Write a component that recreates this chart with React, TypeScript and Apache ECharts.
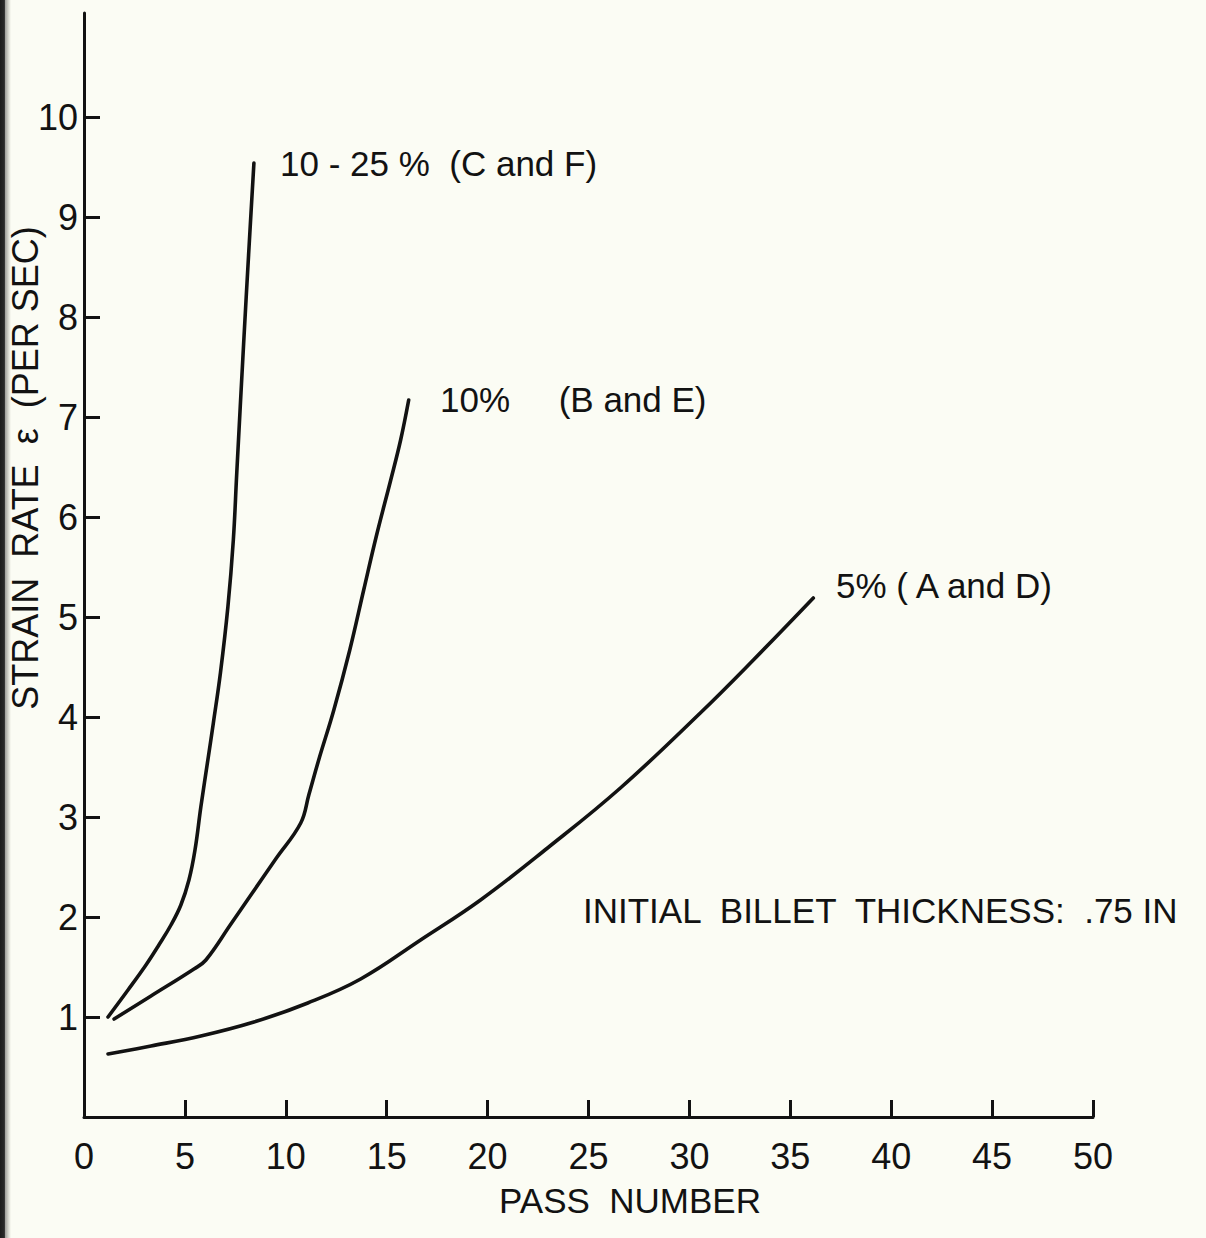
import React, { useEffect, useRef } from "react";
import * as echarts from "echarts";

// ---- data ----
const xLabelValues = [0, 5, 10, 15, 20, 25, 30, 35, 40, 45, 50];
const xTickValues = [5, 10, 15, 20, 25, 30, 35, 40, 45, 50];
const yTickValues = [1, 2, 3, 4, 5, 6, 7, 8, 9, 10];

// 10-25 % (C and F)
const seriesCF: number[][] = [
  [1.19, 1.0], [2.18, 1.27], [3.07, 1.52], [3.71, 1.72], [4.31, 1.92], [4.8, 2.12],
  [5.2, 2.37], [5.5, 2.67], [5.79, 3.1], [6.16, 3.6], [6.41, 3.94], [6.76, 4.44],
  [7.13, 5.1], [7.4, 5.77], [7.57, 6.44], [7.92, 7.77], [8.17, 8.67], [8.42, 9.54],
];

// 10% (B and E)
const seriesBE: number[][] = [
  [1.49, 0.98], [3.32, 1.21], [5.45, 1.48], [6.04, 1.57], [7.28, 1.93], [8.27, 2.22],
  [9.5, 2.58], [10.74, 2.94], [11.14, 3.22], [11.63, 3.57], [12.38, 4.07], [13.17, 4.67],
  [13.86, 5.27], [14.5, 5.82], [15.2, 6.37], [15.69, 6.77], [16.09, 7.17],
];

// 5% (A and D)
const seriesAD: number[][] = [
  [1.19, 0.63], [3.32, 0.71], [5.79, 0.81], [8.42, 0.95], [11.09, 1.14], [13.71, 1.38],
  [16.68, 1.77], [19.65, 2.17], [22.97, 2.69], [26.58, 3.29], [30.54, 4.04],
  [33.17, 4.57], [36.14, 5.19],
];

const curveLabels = ["10 - 25 %  (C and F)", "10%     (B and E)", "5% ( A and D)"];
const noteText = "INITIAL  BILLET  THICKNESS:  .75 IN";
const xAxisTitle = "PASS  NUMBER";
const yAxisTitle = "STRAIN  RATE  \u03B5  (PER SEC)";

const INK = "#121212";
const BG = "#fbfcf4";
const FONT = "Liberation Sans";

export default function App() {
  const ref = useRef<HTMLDivElement>(null);

  useEffect(() => {
    if (!ref.current) return;
    const chart = echarts.init(ref.current, undefined, { renderer: "svg" });

    const lineSeries = (name: string, data: number[][]) => ({
      name,
      type: "line",
      data,
      showSymbol: false,
      symbol: "none",
      smooth: 0.4,
      lineStyle: { color: INK, width: 3.6, cap: "round", join: "round" },
      z: 3,
    });

    const txt = (text: string, x: number, y: number, size = 35, extra: any = {}) => ({
      type: "text",
      x,
      y,
      z: 10,
      ...extra,
      style: {
        text,
        fill: INK,
        fontSize: size,
        fontFamily: FONT,
        align: extra.align || "left",
        verticalAlign: "middle",
      },
    });

    chart.setOption({
      animation: false,
      backgroundColor: BG,
      grid: {
        left: 84,
        right: 113,
        top: 13,
        bottom: 121,
        containLabel: false,
        outerBoundsMode: "none",
      },
      xAxis: {
        type: "value",
        min: 0,
        max: 50,
        interval: 5,
        axisLine: { show: true, onZero: false, lineStyle: { color: INK, width: 3 } },
        axisTick: {
          show: true,
          inside: true,
          length: 17,
          customValues: xTickValues,
          lineStyle: { color: INK, width: 3 },
        },
        axisLabel: {
          show: true,
          customValues: xLabelValues,
          margin: 21,
          color: INK,
          fontSize: 36,
          fontFamily: FONT,
        },
        splitLine: { show: false },
      },
      yAxis: {
        type: "value",
        min: 0,
        max: 11.04,
        interval: 1,
        axisLine: { show: true, onZero: false, lineStyle: { color: INK, width: 3 } },
        axisTick: {
          show: true,
          inside: true,
          length: 16,
          customValues: yTickValues,
          lineStyle: { color: INK, width: 3 },
        },
        axisLabel: {
          show: true,
          customValues: yTickValues,
          margin: 6,
          color: INK,
          fontSize: 36,
          fontFamily: FONT,
        },
        splitLine: { show: false },
      },
      series: [
        lineSeries(curveLabels[0], seriesCF),
        lineSeries(curveLabels[1], seriesBE),
        lineSeries(curveLabels[2], seriesAD),
      ],
      graphic: [
        {
          type: "rect",
          z: 1,
          shape: { x: 0, y: 0, width: 11, height: 1238 },
          style: {
            fill: new echarts.graphic.LinearGradient(0, 0, 1, 0, [
              { offset: 0, color: "#1c1c1c" },
              { offset: 0.4, color: "#2a2a2a" },
              { offset: 0.5, color: "#a4a4a0" },
              { offset: 0.8, color: "#dcddd4" },
              { offset: 1, color: BG },
            ]),
          },
        },
        txt(yAxisTitle, 25, 468, 36, { rotation: Math.PI / 2, align: "center", z: 5 }),
        txt(curveLabels[0], 280, 163),
        txt(curveLabels[1], 440, 399),
        txt(curveLabels[2], 836, 585),
        txt(noteText, 583, 910),
        txt(xAxisTitle, 630, 1200, 35, { align: "center" }),
      ],
    });

    return () => chart.dispose();
  }, []);

  return (
    <div
      ref={ref}
      style={{ position: "absolute", left: 0, top: 0, width: 1206, height: 1238 }}
    />
  );
}
